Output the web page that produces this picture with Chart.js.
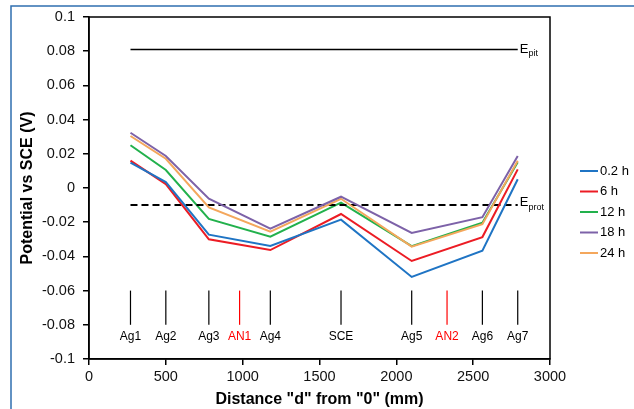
<!DOCTYPE html>
<html>
<head>
<meta charset="utf-8">
<script src="https://cdn.jsdelivr.net/npm/chart.js@4.4.1/dist/chart.umd.min.js"></script>
<style>
  html, body { margin: 0; padding: 0; background: #fff; }
  #wrap { width: 634px; height: 409px; }
</style>
</head>
<body>
<div id="wrap"><canvas id="chart" width="634" height="409"></canvas></div>
<script>
// ─── DATOS ──────────────────────────────────
const distances = [270, 500, 780, 1180, 1640, 2100, 2560, 2790];
const seriesLabels = ['0.2 h', '6 h', '12 h', '18 h', '24 h'];
const pot02h = [0.0148, 0.0035, -0.0273, -0.0339, -0.0185, -0.0520, -0.0367, 0.0051];
const pot6h  = [0.0160, 0.0023, -0.0300, -0.0363, -0.0152, -0.0427, -0.0287, 0.0109];
const pot12h = [0.0250, 0.0105, -0.0181, -0.0285, -0.0086, -0.0340, -0.0203, 0.0150];
const pot18h = [0.0323, 0.0187, -0.0063, -0.0238, -0.0051, -0.0263, -0.0171, 0.0187];
const pot24h = [0.0304, 0.0171, -0.0113, -0.0255, -0.0063, -0.0343, -0.0212, 0.0160];
const seriesColors = ['#1f74c4', '#ec1c24', '#22b14c', '#7d62a8', '#f4a75c'];

const ePit = 0.081;
const eProt = -0.01;
const eSpan = [270, 2790];

const markerLabels = ['Ag1', 'Ag2', 'Ag3', 'AN1', 'Ag4', 'SCE', 'Ag5', 'AN2', 'Ag6', 'Ag7'];
const markerX = [270, 500, 780, 980, 1180, 1640, 2100, 2330, 2560, 2790];
const markerColors = ['#000', '#000', '#000', '#ff0000', '#000', '#000', '#000', '#ff0000', '#000', '#000'];

// ─── GRÁFICO ──────────────────────────────────
const FONT = 'Liberation Sans, Arial, sans-serif';
const allSeries = [pot02h, pot6h, pot12h, pot18h, pot24h];

const pts = (xs, ys) => xs.map((x, i) => ({ x, y: ys[i] }));

const datasets = allSeries.map((vals, i) => ({
  label: seriesLabels[i],
  data: pts(distances, vals),
  borderColor: seriesColors[i],
  borderWidth: 2,
  pointRadius: 0,
  tension: 0,
  order: i === 2 ? 5 : 0
}));

datasets.push({
  label: 'Epit',
  data: pts(eSpan, [ePit, ePit]),
  borderColor: '#000', borderWidth: 1.6, pointRadius: 0
});
datasets.push({
  label: 'Eprot',
  data: pts(eSpan, [eProt, eProt]),
  borderColor: '#000', borderWidth: 2, borderDash: [7, 4], pointRadius: 0
});

const decor = {
  id: 'decor',
  beforeDraw(chart) {
    const { ctx, width, height } = chart;
    ctx.save();
    ctx.fillStyle = '#fff';
    ctx.fillRect(0, 0, width, height);
    ctx.strokeStyle = '#2f6fb0';
    ctx.lineWidth = 1.5;
    ctx.beginPath();
    ctx.moveTo(11, height);
    ctx.lineTo(11, 6);
    ctx.lineTo(width, 6);
    ctx.stroke();
    ctx.restore();
  },
  afterDraw(chart) {
    const { ctx, chartArea: a, scales: { x, y } } = chart;
    ctx.save();
    // marco
    ctx.strokeStyle = '#000';
    ctx.lineWidth = 1.5;
    ctx.strokeRect(a.left, a.top, a.right - a.left, a.bottom - a.top);

    // electrodos
    ctx.font = '12px ' + FONT;
    ctx.textAlign = 'center';
    ctx.textBaseline = 'middle';
    markerX.forEach((mx, i) => {
      const px = x.getPixelForValue(mx);
      ctx.strokeStyle = markerColors[i];
      ctx.lineWidth = 1.2;
      ctx.beginPath();
      ctx.moveTo(px, y.getPixelForValue(-0.06));
      ctx.lineTo(px, y.getPixelForValue(-0.08));
      ctx.stroke();
      ctx.fillStyle = markerColors[i];
      ctx.fillText(markerLabels[i], px, y.getPixelForValue(-0.087));
    });

    // etiquetas E
    ctx.fillStyle = '#000';
    ctx.textAlign = 'left';
    const ex = x.getPixelForValue(eSpan[1]) + 2;
    const lab = (val, sub, dy) => {
      const py = y.getPixelForValue(val) + dy;
      ctx.font = '13px ' + FONT;
      ctx.fillText('E', ex, py);
      const w = ctx.measureText('E').width;
      ctx.font = '9px ' + FONT;
      ctx.fillText(sub, ex + w, py + 4.5);
    };
    lab(ePit, 'pit', -0.5);
    lab(eProt, 'prot', -2.5);

    // leyenda
    ctx.font = '13px ' + FONT;
    seriesLabels.forEach((l, i) => {
      const ly = 171 + i * 20.5;
      ctx.strokeStyle = seriesColors[i];
      ctx.lineWidth = 2;
      ctx.beginPath();
      ctx.moveTo(580, ly);
      ctx.lineTo(598, ly);
      ctx.stroke();
      ctx.fillStyle = '#000';
      ctx.fillText(l, 600, ly);
    });
    ctx.restore();
  }
};

new Chart(document.getElementById('chart'), {
  type: 'line',
  data: { datasets },
  options: {
    responsive: false,
    animation: false,
    devicePixelRatio: 1,
    layout: { padding: { left: 0, right: 84, top: 17, bottom: 0 } },
    plugins: { legend: { display: false }, tooltip: { enabled: false } },
    scales: {
      x: {
        type: 'linear',
        min: 0, max: 3000,
        afterFit: s => { s.height = 50; },
        ticks: {
          stepSize: 500, color: '#111', padding: 3,
          font: { family: FONT, size: 14.5 },
          callback: v => String(v)
        },
        grid: { drawOnChartArea: false, drawTicks: true, tickLength: 6, color: '#000', lineWidth: 1.5 },
        border: { display: true, color: '#000', width: 1.5 },
        title: {
          display: true, text: 'Distance "d" from "0" (mm)', color: '#000',
          font: { family: FONT, size: 16, weight: 'bold' },
          padding: { top: 0, bottom: 0 }
        }
      },
      y: {
        min: -0.1, max: 0.1,
        afterFit: s => { s.width = 89; },
        ticks: {
          stepSize: 0.02, color: '#111', padding: 8,
          font: { family: FONT, size: 14.5 },
          callback: v => String(parseFloat(v.toFixed(2)))
        },
        grid: { drawOnChartArea: false, drawTicks: true, tickLength: 6, color: '#000', lineWidth: 1.5 },
        border: { display: true, color: '#000', width: 1.5 },
        title: {
          display: true, text: 'Potential vs SCE (V)', color: '#000',
          font: { family: FONT, size: 16, weight: 'bold' },
          padding: { top: 18, bottom: 0 }
        }
      }
    }
  },
  plugins: [decor]
});
</script>
</body>
</html>
